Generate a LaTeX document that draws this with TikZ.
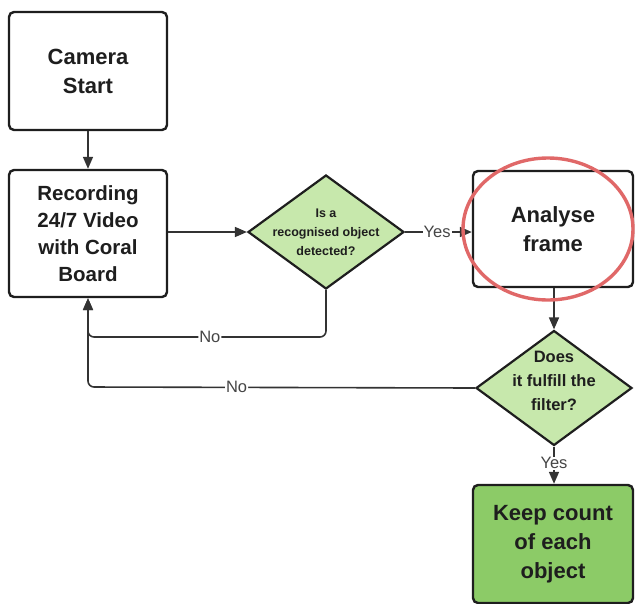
\documentclass[tikz,border=0pt]{standalone}
\usepackage{fontspec}
\setmainfont{Liberation Sans}
\usetikzlibrary{shapes.geometric,arrows.meta,calc}
\definecolor{edge}{HTML}{333333}
\definecolor{frame}{HTML}{1E1E1E}
\definecolor{paleg}{HTML}{C7E8AC}
\definecolor{richg}{HTML}{8CCB67}
\definecolor{ring}{HTML}{E06868}
\definecolor{lbltext}{HTML}{454545}
\tikzset{
  x=1pt, y=-1pt,
  stepbox/.style={draw=frame, line width=2.4pt, rounded corners=5pt, fill=white,
    inner sep=0pt, align=center, font=\bfseries\fontsize{20.5}{27}\selectfont, text=frame},
  bigbox/.style={stepbox, font=\bfseries\fontsize{22}{29}\selectfont},
  choice/.style={draw=frame, line width=2.2pt, shape=diamond, fill=paleg, inner sep=0pt},
  choicetext/.style={align=center, inner sep=0pt, text=frame},
  conn/.style={draw=edge, line width=1.6pt, -{Triangle[length=12pt,width=10pt]}},
  lbl/.style={fill=white, inner sep=1pt, text=lbltext, font=\fontsize{16.5}{18}\selectfont}
}
\begin{document}
\begin{tikzpicture}
\useasboundingbox (0,0) rectangle (635,603);

% process boxes
\node[bigbox, minimum width=158pt, minimum height=118pt] (cam) at (88,71) {Camera\\Start};
\node[stepbox, minimum width=158pt, minimum height=127pt] (rec) at (88,233.5) {Recording\\24/7 Video\\with Coral\\Board};
\node[bigbox, minimum width=160pt, minimum height=116pt] (ana) at (553,229) {Analyse\\frame};
\node[bigbox, fill=richg, minimum width=160pt, minimum height=118pt] (keep) at (553,544) {Keep count\\of each\\object};

% decisions
\node[choice, minimum width=156pt, minimum height=114pt] (d1) at (326,232) {};
\node[choicetext, font=\bfseries\fontsize{12.5}{19}\selectfont] (d1t) at (326,232) {Is a\\recognised object\\detected?};
\node[choice, minimum width=156pt, minimum height=115pt] (d2) at (554,388) {};
\node[choicetext, font=\bfseries\fontsize{16.5}{24}\selectfont] (d2t) at (554,381) {Does\\it fulfill the\\filter?};

% loop-back corners
\coordinate (c1) at (88,337);
\coordinate (c2) at (88,387);

% connectors
\draw[conn] (cam.south) -- (rec.north);
\draw[conn] (rec.east |- d1.west) -- (d1.west);
\draw[conn] (d1.east) -- node[lbl, pos=0.48] (yes1) {Yes} (ana.west |- d1.east);
\draw[conn] (ana.south -| d2.north) -- (d2.north);
\draw[conn] (d2.south) -- node[lbl, pos=0.45] (yes2) {Yes} (keep.north -| d2.south);
\draw[conn, rounded corners=6pt] (d1.south) |- node[lbl, pos=0.744] (no1) {No} (c1) -- (rec.south);
\draw[conn, rounded corners=6pt] (d2.west) -- node[lbl, pos=0.616] (no2) {No} (c2) -- (rec.south);

% highlight ring
\draw[ring, line width=3.4pt] (548,229) ellipse [x radius=85, y radius=71];
\end{tikzpicture}
\end{document}
